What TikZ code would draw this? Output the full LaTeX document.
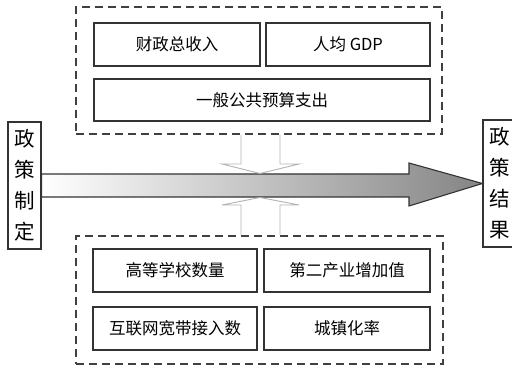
\documentclass[tikz,border=0pt]{standalone}
\usepackage{fontspec}
\setmainfont{Noto Sans CJK SC}
\usepackage{tikz}
\usetikzlibrary{calc}

\tikzset{
  itembox/.style={draw=black!80, line width=1.1pt, minimum height=43pt, inner sep=0pt, font=\fontsize{16.5}{19}\selectfont},
  groupbox/.style={draw=black!75, line width=1.1pt, dash pattern=on 8pt off 5pt, inner sep=0pt},
  sidebox/.style={draw=black!80, line width=1.1pt, minimum width=33pt, minimum height=127pt, inner sep=0pt, align=center, font=\fontsize{20.5}{31}\selectfont},
  hollow/.style={draw=black!30, line width=0.9pt}
}

\begin{document}
\begin{tikzpicture}[x=1pt, y=-1pt, >=stealth]
    \useasboundingbox (0,0) rectangle (512,371);

    \node[groupbox, minimum width=366pt, minimum height=127pt] (top) at (259,70.5) {};
    \node[groupbox, minimum width=367pt, minimum height=128pt] (bottom) at (259.5,300) {};

    \node[itembox, minimum width=166pt] (income) at (177,44.5) {财政总收入};
    \node[itembox, minimum width=164pt] (gdp) at (348,44.5) {人均 GDP};
    \node[itembox, minimum width=336pt, minimum height=42pt] (budget) at (262,100) {一般公共预算支出};

    \node[itembox, minimum width=164pt] (school) at (175,270.5) {高等学校数量};
    \node[itembox, minimum width=166pt] (industry) at (347,270.5) {第二产业增加值};
    \node[itembox, minimum width=164pt] (internet) at (175,328.5) {互联网宽带接入数};
    \node[itembox, minimum width=166pt] (urban) at (347,328.5) {城镇化率};

    \node[sidebox] (make) at (24.5,185.5) {政\\策\\制\\定};
    \node[sidebox] (result) at (499.5,183.5) {政\\策\\结\\果};

    \shade[draw=black!80, line width=1.1pt, left color=white, middle color=black!18, right color=black!48]
      (make.east |- 0,174) -- (409,174) -- (409,163) -- (result.west) -- (409,206) -- (409,197) -- (make.east |- 0,197) -- cycle;

    \draw[hollow] ($(top.south)+(-18,0)$) -- (241,164) -- (222,164) -- (260,173.5) -- (299,164) -- (280,164) -- ($(top.south)+(21,0)$);
    \draw[hollow] ($(bottom.north)+(-18.5,0)$) -- (241,205) -- (222,205) -- (260,197.5) -- (299,205) -- (280,205) -- ($(bottom.north)+(20.5,0)$);
\end{tikzpicture}
\end{document}
